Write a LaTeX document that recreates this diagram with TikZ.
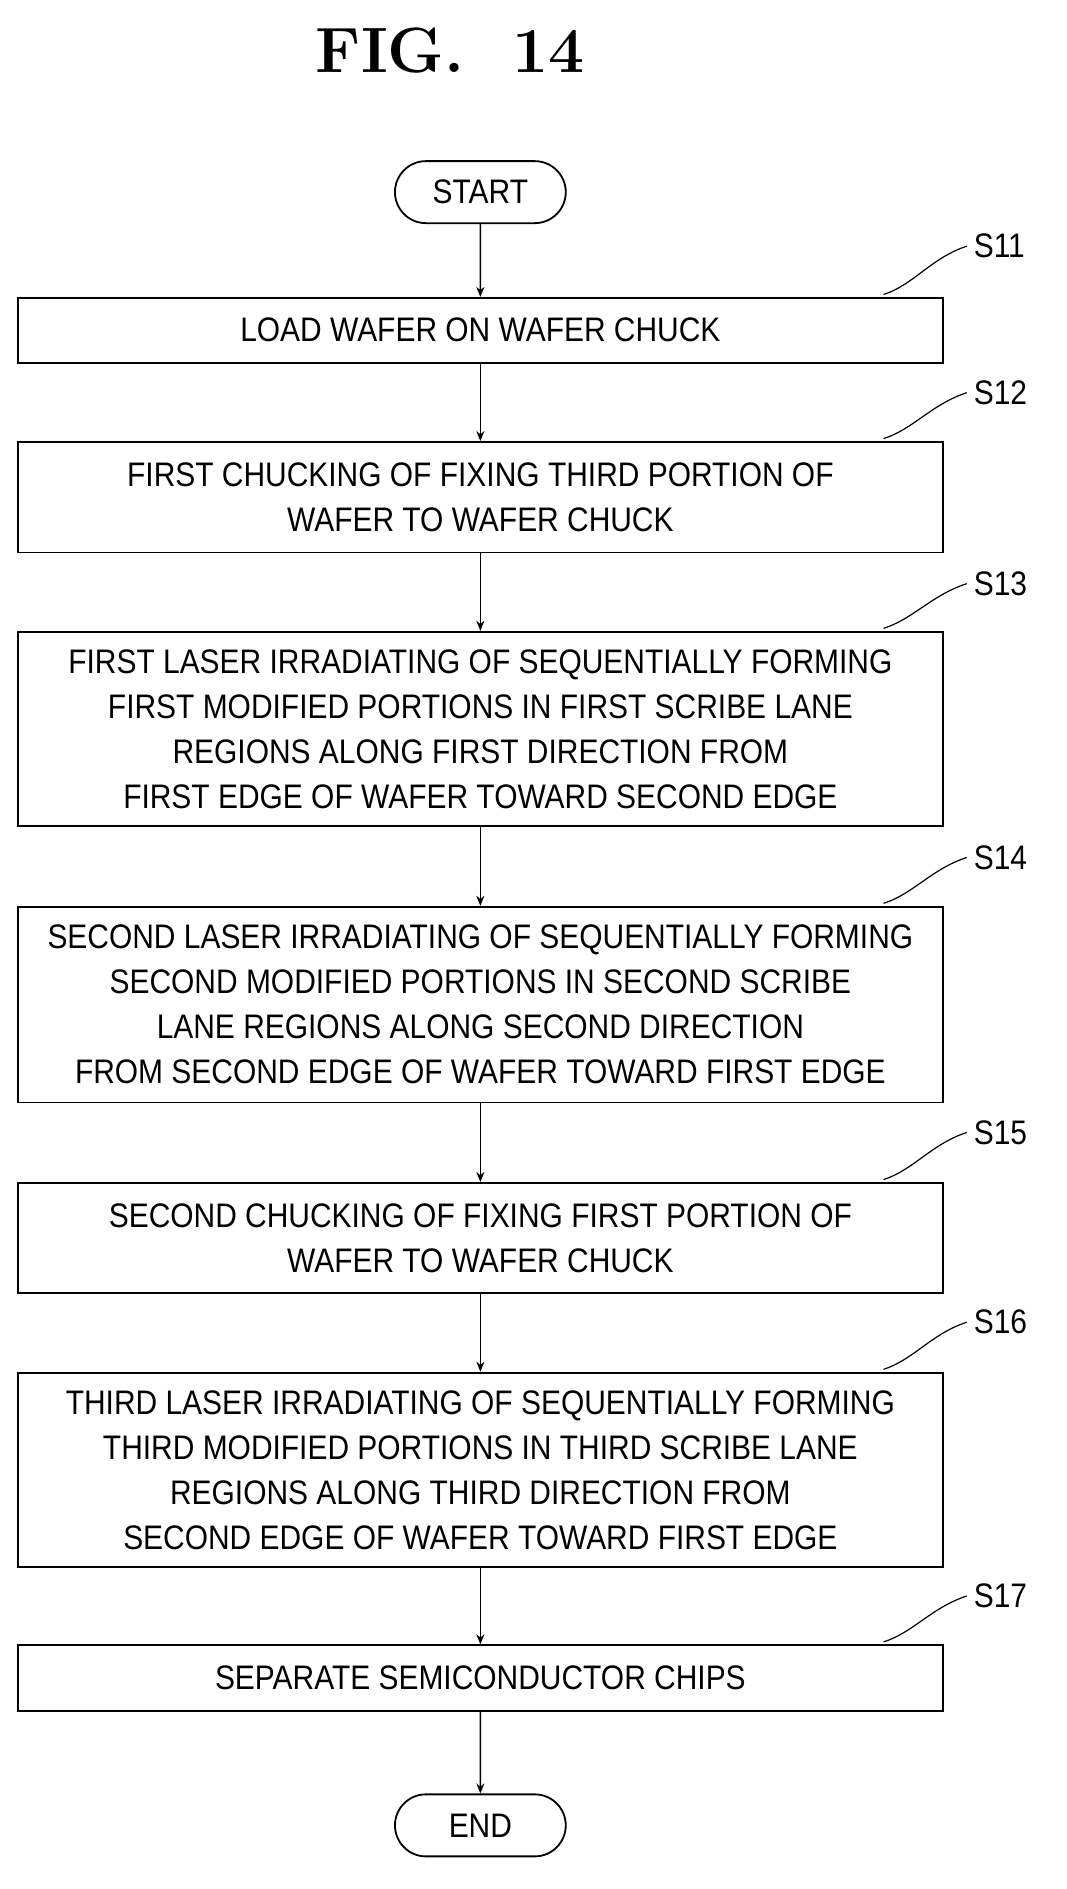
\documentclass[tikz,border=0pt]{standalone}
\usepackage{fontspec}
\setsansfont[FakeStretch=0.88]{Liberation Sans}
\usetikzlibrary{arrows.meta,shapes.misc}
\begin{document}
\begin{tikzpicture}[x=0.6pt,y=-0.6pt,
    stepbox/.style={draw,line width=0.9pt,minimum width=462pt,align=center,
      font=\sffamily\fontsize{17}{22.5}\selectfont,inner sep=0pt},
    term/.style={draw,line width=0.9pt,rounded rectangle,minimum width=92pt,minimum height=31pt,
      font=\sffamily\fontsize{17}{20}\selectfont},
    flow/.style={-{Stealth[length=5pt,width=4pt]},line width=0.7pt},
    tag/.style={font=\sffamily\fontsize{17}{20}\selectfont,anchor=west}]
\useasboundingbox (0,0) rectangle (888,1573);
\node[font=\bfseries\fontsize{32}{36}\selectfont] (title) at (375,42) {FIG.\ \ 14};

\node[term] (start) at (400,160) {START};
\node[stepbox,minimum height=32.4pt] (s11) at (400,275) {LOAD WAFER ON WAFER CHUCK};
\node[stepbox,minimum height=55.2pt] (s12) at (400,414) {FIRST CHUCKING OF FIXING THIRD PORTION OF\\WAFER TO WAFER CHUCK};
\node[stepbox,minimum height=97.2pt] (s13) at (400,607) {FIRST LASER IRRADIATING OF SEQUENTIALLY FORMING\\FIRST MODIFIED PORTIONS IN FIRST SCRIBE LANE\\REGIONS ALONG FIRST DIRECTION FROM\\FIRST EDGE OF WAFER TOWARD SECOND EDGE};
\node[stepbox,minimum height=97.8pt] (s14) at (400,836.5) {SECOND LASER IRRADIATING OF SEQUENTIALLY FORMING\\SECOND MODIFIED PORTIONS IN SECOND SCRIBE\\LANE REGIONS ALONG SECOND DIRECTION\\FROM SECOND EDGE OF WAFER TOWARD FIRST EDGE};
\node[stepbox,minimum height=55.2pt] (s15) at (400,1031) {SECOND CHUCKING OF FIXING FIRST PORTION OF\\WAFER TO WAFER CHUCK};
\node[stepbox,minimum height=97.2pt] (s16) at (400,1224) {THIRD LASER IRRADIATING OF SEQUENTIALLY FORMING\\THIRD MODIFIED PORTIONS IN THIRD SCRIBE LANE\\REGIONS ALONG THIRD DIRECTION FROM\\SECOND EDGE OF WAFER TOWARD FIRST EDGE};
\node[stepbox,minimum height=33pt] (s17) at (400,1397.5) {SEPARATE SEMICONDUCTOR CHIPS};
\node[term] (end) at (400,1520) {END};

\draw[flow] (start) -- (s11);
\draw[flow] (s11) -- (s12);
\draw[flow] (s12) -- (s13);
\draw[flow] (s13) -- (s14);
\draw[flow] (s14) -- (s15);
\draw[flow] (s15) -- (s16);
\draw[flow] (s16) -- (s17);
\draw[flow] (s17) -- (end);

% step labels
\foreach \s/\y in {s11/205,s12/327,s13/486,s14/714,s15/943,s16/1101,s17/1329}{
  \node[tag] (l\s) at (805,\y) {\MakeUppercase{\s}};
  \draw[line width=0.6pt] (\s.north east) ++(-50,-2) .. controls +(25,-8) and +(-30,10) .. (l\s.west);
}
\end{tikzpicture}
\end{document}
